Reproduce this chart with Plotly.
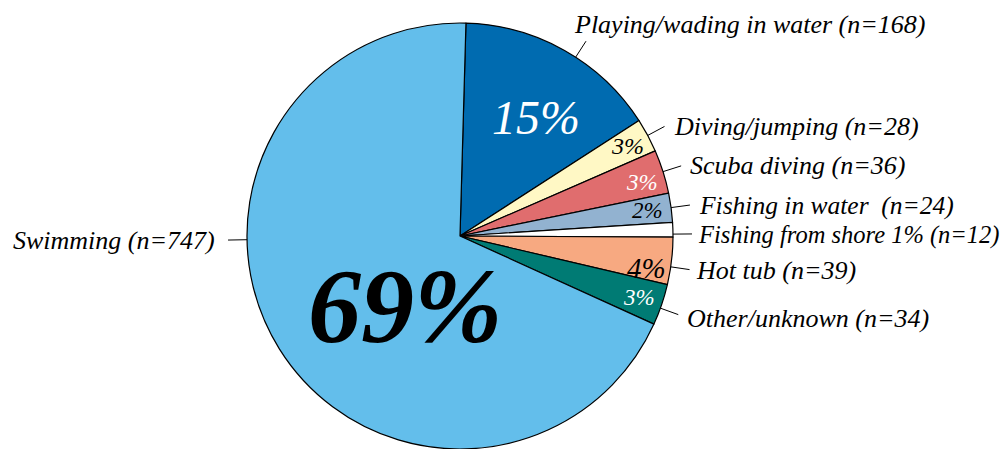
import math
import plotly.graph_objects as go

# ---------------- data ----------------
categories = ["Playing/wading in water", "Diving/jumping", "Scuba diving",
              "Fishing in water\u00a0", "Fishing from shore", "Hot tub",
              "Other/unknown", "Swimming"]
counts = [168, 28, 36, 24, 12, 39, 34, 747]

# ---------------- style ----------------
slice_colors = ["#006BB0", "#FFF8C5", "#E06D6E", "#92B2D0", "#FFFFFF",
                "#F7A981", "#007B74", "#63BEEB"]
pct_font_colors = ["white", "black", "white", "black", "black", "black", "white", "black"]
pct_font_sizes = [48, 24, 23, 23, 22, 29, 23, 106]
pct_font_weights = ["normal", "normal", "normal", "normal", "normal", "normal", "normal", "bold"]
label_sizes = [26, 26, 26, 25.5, 24.5, 26, 26, 26]
FONT = "Liberation Serif, Times New Roman, serif"

W, H = 1002, 449
CX, CY, R = 460, 236, 213
ROTATION = 1.6  # degrees clockwise from 12 o'clock

# placement tweaks (style only)
pct_angle_override = {7: 218}
pct_angle_adj = {0: 3.2, 2: 1.3, 5: 3.0}
pct_radius = {0: 141, 7: 89}
leader_angle_override = {7: 269}
leader_angle_adj = {0: 3.5, 4: 1.2, 5: 1.6, 6: 1.0}
text_offset = {0: (-14, -17), 4: (4, 1), 5: (4, 1), 6: (7, 4)}

total = sum(counts)


def to_paper(px, py):
    return px / W, 1 - py / H


def polar(angle_deg, r):
    a = math.radians(angle_deg)
    return CX + r * math.sin(a), CY - r * math.cos(a)


# mid angles computed from data
mids = []
acc = ROTATION
for v in counts:
    span = v / total * 360
    mids.append(acc + span / 2)
    acc += span

pcts = [round(v / total * 100) for v in counts]

fig = go.Figure()
fig.add_trace(go.Pie(
    labels=categories,
    values=counts,
    sort=False,
    direction="clockwise",
    rotation=ROTATION,
    textinfo="none",
    hoverinfo="label+value+percent",
    marker=dict(colors=slice_colors, line=dict(color="black", width=1.2)),
    domain=dict(x=[(CX - R) / W, (CX + R) / W], y=[(H - CY - R) / H, (H - CY + R) / H]),
    showlegend=False,
))

annotations = []
shapes = []
for i, (name, v, p) in enumerate(zip(categories, counts, pcts)):
    # inside percentage
    if p >= 2:
        ang = pct_angle_override.get(i, mids[i] + pct_angle_adj.get(i, 0))
        px, py = polar(ang, pct_radius.get(i, 0.89 * R))
        x, y = to_paper(px, py)
        annotations.append(dict(
            x=x, y=y, xref="paper", yref="paper", text=f"{p}%", showarrow=False,
            xanchor="center", yanchor="middle",
            font=dict(family=FONT, size=pct_font_sizes[i], color=pct_font_colors[i],
                      style="italic", weight=pct_font_weights[i]),
        ))
        label = f"{name} (n={v})"
    else:
        label = f"{name} {p}% (n={v})"

    # leader line
    la = leader_angle_override.get(i, mids[i] + leader_angle_adj.get(i, 0))
    sx, sy = polar(la, R)
    ex, ey = polar(la, R + 19)
    x0, y0 = to_paper(sx, sy)
    x1, y1 = to_paper(ex, ey)
    shapes.append(dict(type="line", xref="paper", yref="paper", x0=x0, y0=y0, x1=x1, y1=y1,
                       line=dict(color="black", width=1)))

    right_side = math.sin(math.radians(la)) >= 0
    dx, dy = text_offset.get(i, (7 if right_side else -11, 0))
    tx, ty = to_paper(ex + dx, ey + dy)
    annotations.append(dict(
        x=tx, y=ty, xref="paper", yref="paper", text=label, showarrow=False,
        xanchor="left" if right_side else "right", yanchor="middle",
        font=dict(family=FONT, size=label_sizes[i], color="black", style="italic"),
    ))

fig.update_layout(
    width=W, height=H, autosize=False,
    margin=dict(l=0, r=0, t=0, b=0),
    paper_bgcolor="white", plot_bgcolor="white",
    annotations=annotations, shapes=shapes,
)

fig.write_html("out.html",
               config={"displayModeBar": False},
               post_script="document.body.style.margin='0';document.body.style.overflow='hidden';")
